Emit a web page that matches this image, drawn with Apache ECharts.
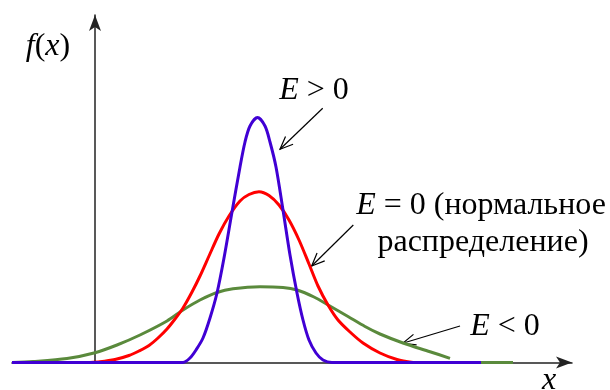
<!DOCTYPE html>
<html>
<head>
<meta charset="utf-8">
<script src="https://cdn.jsdelivr.net/npm/echarts@6/dist/echarts.min.js"></script>
<style>html,body{margin:0;padding:0;background:#fff}#c{width:610px;height:390px}</style>
</head>
<body>
<div id="c"></div>
<script>
// Curve data (x, f(x)) in chart units
const blueCurve = [
  [-1.66,0],[1.76,0],[1.90,0.045],[2.02,0.125],[2.16,0.245],[2.30,0.445],[2.44,0.695],
  [2.58,1.045],[2.74,1.505],[2.90,1.955],[3.00,2.205],[3.10,2.365],[3.25,2.45],
  [3.40,2.365],[3.50,2.205],[3.62,1.955],[3.76,1.525],[3.90,1.075],[4.04,0.695],
  [4.16,0.425],[4.28,0.225],[4.42,0.095],[4.56,0.025],[4.74,0],[7.72,0]
];
const redCurve = [
  [-0.10,0],[0.10,0.007],[0.40,0.03],[0.68,0.07],[0.88,0.115],[1.08,0.17],[1.26,0.245],
  [1.44,0.335],[1.60,0.435],[1.76,0.545],[1.94,0.705],[2.10,0.865],[2.28,1.065],[2.48,1.285],
  [2.68,1.465],[2.90,1.615],[3.08,1.68],[3.28,1.708],[3.48,1.67],[3.68,1.575],[3.88,1.425],
  [4.08,1.225],[4.28,0.985],[4.46,0.765],[4.66,0.575],[4.86,0.425],[5.10,0.305],[5.36,0.195],
  [5.70,0.095],[6.04,0.03],[6.36,0]
];
const greenCurve = [
  [-1.66,0],[-1.24,0.01],[-0.56,0.04],[0,0.098],[0.44,0.175],[0.90,0.275],[1.44,0.415],
  [1.76,0.525],[2.10,0.625],[2.44,0.70],[2.76,0.737],[3.30,0.758],[3.76,0.75],[4.04,0.725],
  [4.38,0.655],[4.68,0.57],[5.06,0.46],[5.40,0.36],[5.70,0.285],[6.16,0.195],[6.70,0.108],
  [7.10,0.042]
];
const greenTail = [[7.50,0],[8.36,0]];
const xMin = -1.66, xMax = 9.54, yMax = 3.475;

const labelEpos = '{i|E} > 0';
const labelE0a = '{i|E} = 0 (нормальное';
const labelE0b = 'распределение)';
const labelEneg = '{i|E} < 0';
const yName = '{i|f}({i|x})';
const xName = 'x';

const FONT = '"Liberation Serif", "Times New Roman", serif';
const FS = 32;
const rich = {i:{fontStyle:'italic', fontFamily:FONT, fontSize:FS, fill:'#000'}};

const chart = echarts.init(document.getElementById('c'), null, {renderer:'canvas'});

function arrow(x1,y1,x2,y2){
  const a = Math.atan2(y2-y1, x2-x1), L = 14, s = 0.4;
  return [
    {type:'line', shape:{x1:x1,y1:y1,x2:x2,y2:y2}, style:{stroke:'#000', lineWidth:1.2}},
    {type:'polyline', shape:{points:[[x2-L*Math.cos(a-s), y2-L*Math.sin(a-s)],[x2,y2],[x2-L*Math.cos(a+s), y2-L*Math.sin(a+s)]]}, style:{stroke:'#000', lineWidth:1.2, fill:null}}
  ];
}
function txt(t, x, y, align){
  return {type:'text', x:x, y:y, style:{text:t, rich:rich, fontFamily:FONT, fontSize:FS, fill:'#000', align:align||'center', verticalAlign:'middle'}};
}

const axisCommon = {
  type:'value', axisTick:{show:false}, axisLabel:{show:false}, splitLine:{show:false},
  axisLine:{show:true, onZero:true, symbol:['none','arrow'], symbolSize:[9,16], lineStyle:{color:'#222', width:1.5}}
};

chart.setOption({
  animation:false,
  grid:{left:12, right:38, top:15, bottom:27.5},
  xAxis:Object.assign({}, axisCommon, {min:xMin, max:xMax}),
  yAxis:Object.assign({}, axisCommon, {min:0, max:yMax}),
  series:[
    {type:'line', data:greenTail, showSymbol:false, lineStyle:{color:'#5a8a3c', width:3}},
    {type:'line', data:greenCurve, smooth:0.3, showSymbol:false, lineStyle:{color:'#5a8a3c', width:3}},
    {type:'line', data:redCurve, smooth:0.3, showSymbol:false, lineStyle:{color:'#ff0000', width:3}},
    {type:'line', data:blueCurve, smooth:0.3, showSymbol:false, lineStyle:{color:'#4000d4', width:3}}
  ],
  graphic:[
    txt(yName, 48, 47),
    txt(labelEpos, 314, 91),
    txt(labelE0a, 481, 206),
    txt(labelE0b, 483, 243),
    txt(labelEneg, 505, 327),
    txt('{i|' + xName + '}', 549, 381)
  ].concat(arrow(322.7,108.3,280,149.3), arrow(353.3,225,311.7,266), arrow(460,326,402.7,343.3))
});
</script>
</body>
</html>
